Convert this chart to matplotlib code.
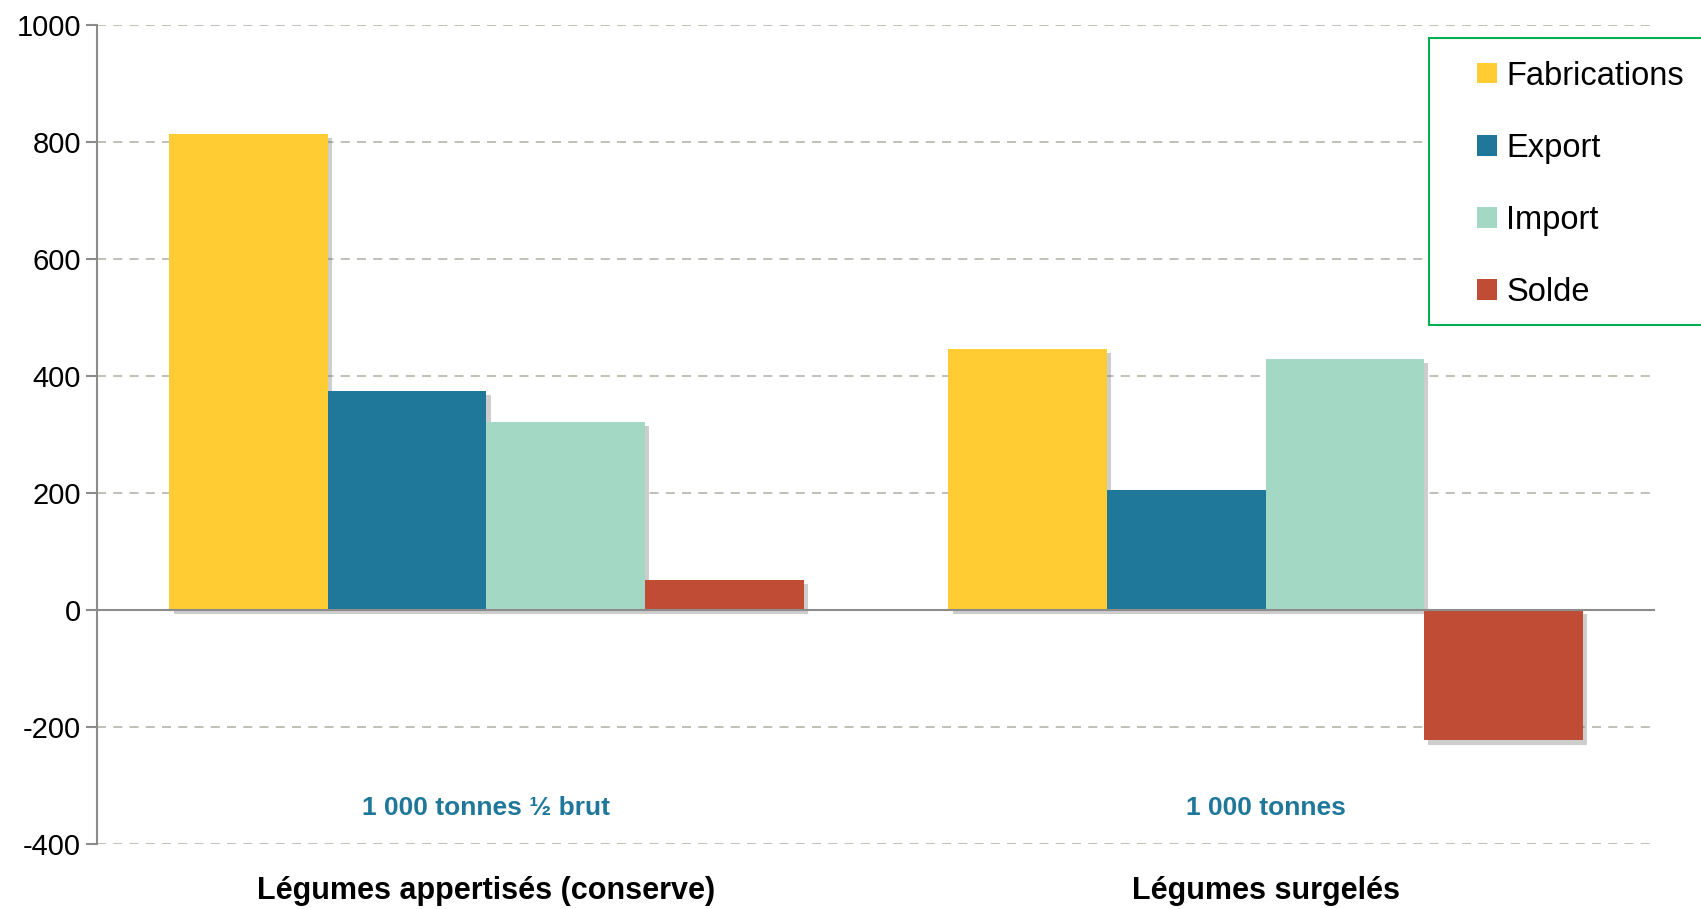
import matplotlib
matplotlib.use("Agg")
import matplotlib.pyplot as plt
import matplotlib.patheffects as pe
from matplotlib.patches import Patch, Rectangle
import numpy as np

# values in 1000 t
categories = ["Légumes appertisés (conserve)", "Légumes surgelés"]
units = ["1 000 tonnes ½ brut", "1 000 tonnes"]
series = ["Fabrications", "Export", "Import", "Solde"]
fabrications = [814, 447]
export = [375, 205]
imports = [321, 429]
solde = [52, -223]
colors = ["#FFCD33", "#1F7799", "#A3D8C4", "#C04C36"]

plt.rcParams['font.family'] = ['Liberation Sans', 'DejaVu Sans']
plt.rcParams['axes.unicode_minus'] = False

fig = plt.figure(figsize=(17.01, 9.09), dpi=100)
ax = fig.add_axes([0.057, 0.0715, 0.916, 0.901])

x = np.arange(len(categories))
w = 0.2035
shadow = [pe.SimplePatchShadow(offset=(3, -3), shadow_rgbFace="#707070", alpha=0.35), pe.Normal()]
for i, (name, vals) in enumerate(zip(series, [fabrications, export, imports, solde])):
    bars = ax.bar(x + (i - 1.5) * w, vals, w, color=colors[i], zorder=3)
    for b in bars:
        b.set_path_effects(shadow)

ax.set_xlim(-0.5, 1.5)
ax.set_ylim(-400, 1000)
ax.set_yticks(range(-400, 1001, 200))
ax.yaxis.grid(True, linestyle=(0, (5, 4)), color="#B8BCB0", linewidth=1.3, zorder=0)
ax.axhline(0, color="#8C8C8C", linewidth=1.5, zorder=4)

for s in ["top", "right", "bottom"]:
    ax.spines[s].set_visible(False)
ax.spines["left"].set_color("#8C8C8C")
ax.spines["left"].set_linewidth(1.5)
ax.tick_params(axis="y", colors="#8C8C8C", labelcolor="black", labelsize=21, length=8, width=1.5)
ax.set_xticks([])

for xi, u, c in zip(x, units, categories):
    ax.text(xi, -338, u, ha="center", va="center", fontsize=19, fontweight="bold", color="#1F7799")
    ax.text(xi, -480, c, ha="center", va="center", fontsize=22, fontweight="bold", color="black",
            clip_on=False)

# legend frame runs off the right edge of the page
fig.patches.append(Rectangle((0.8401, 0.6425), 0.2, 0.3157, transform=fig.transFigure,
                             facecolor="white", edgecolor="#00B050", linewidth=1.5, zorder=5))
handles = [Patch(facecolor=c, label=s) for c, s in zip(colors, series)]
leg = fig.legend(handles=handles, loc="upper left", bbox_to_anchor=(0.8683, 0.9334), fontsize=23.5,
                 frameon=False, handlelength=0.6, handleheight=0.6,
                 handletextpad=0.3, labelspacing=1.26, borderpad=0, borderaxespad=0)
leg.set_zorder(6)

fig.savefig("out.png", dpi=100)
